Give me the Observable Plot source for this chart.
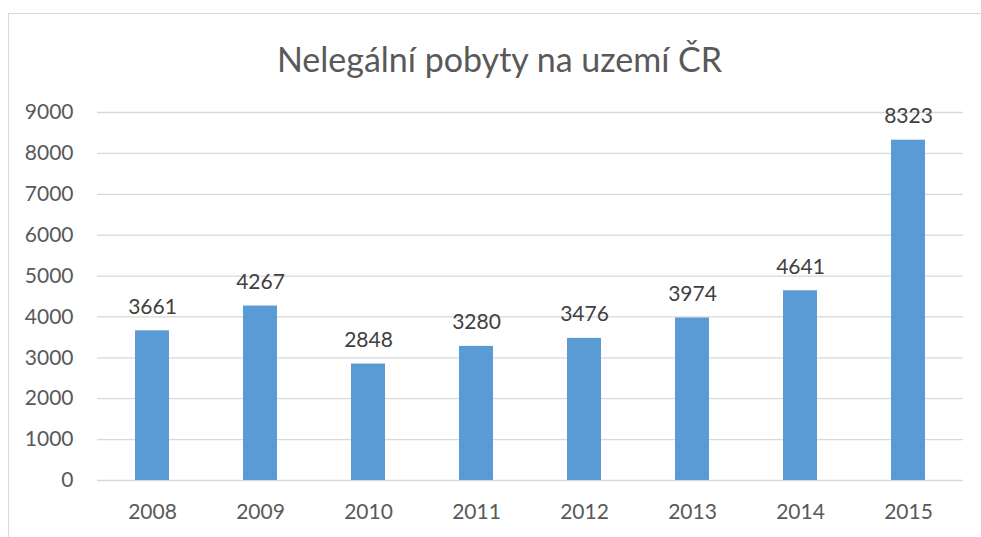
<!DOCTYPE html>
<html>
<head>
<meta charset="utf-8">
<script src="https://cdn.jsdelivr.net/npm/d3@7"></script>
<script src="https://cdn.jsdelivr.net/npm/@observablehq/plot@0.6"></script>
<style>
  html, body { margin: 0; padding: 0; background: #fff; }
  #wrap { position: relative; width: 981px; height: 537px; overflow: hidden; font-family: Lato, sans-serif; }
  #frame { position: absolute; left: 8px; top: 13px; width: 1000px; height: 600px; border-left: 1px solid #d9d9d9; border-top: 1px solid #d9d9d9; box-sizing: border-box; }
  #title { position: absolute; left: 0; width: 999px; top: 37px; text-align: center; font-size: 34px; color: #595959; line-height: 44px; }
  #chart { position: absolute; left: 0; top: 0; }
</style>
</head>
<body>
<div id="wrap">
  <div id="frame"></div>
  <div id="title">Nelegální pobyty na uzemí ČR</div>
  <div id="chart"></div>
</div>
<script>
const years = ["2008", "2009", "2010", "2011", "2012", "2013", "2014", "2015"];
const values = [3661, 4267, 2848, 3280, 3476, 3974, 4641, 8323];
const yTicks = [0, 1000, 2000, 3000, 4000, 5000, 6000, 7000, 8000, 9000];

const data = years.map((y, i) => ({year: y, value: values[i]}));

const plot = Plot.plot({
  width: 981,
  height: 537,
  marginLeft: 97,
  marginRight: 18,
  marginTop: 112,
  marginBottom: 57,
  style: {fontFamily: "Lato, sans-serif", fontSize: "21px", color: "#595959", background: "transparent"},
  x: {domain: years, paddingInner: 0.686, paddingOuter: 0.343, label: null},
  y: {domain: [0, 9000], label: null},
  marks: [
    Plot.ruleY(yTicks, {stroke: "#d9d9d9", strokeWidth: 1.3}),
    Plot.barY(data, {x: "year", y: "value", fill: "#5b9bd5"}),
    Plot.text(data, {x: "year", y: "value", text: d => String(d.value), lineAnchor: "bottom", dy: -17, fill: "#404040", fontSize: 21}),
    Plot.axisY({ticks: yTicks, tickSize: 0, tickPadding: 24, tickFormat: d => String(d), fill: "#595959", fontSize: 21, label: null}),
    Plot.axisX({tickSize: 0, tickPadding: 24, fill: "#595959", fontSize: 21, label: null})
  ]
});
document.getElementById("chart").appendChild(plot);
</script>
</body>
</html>
